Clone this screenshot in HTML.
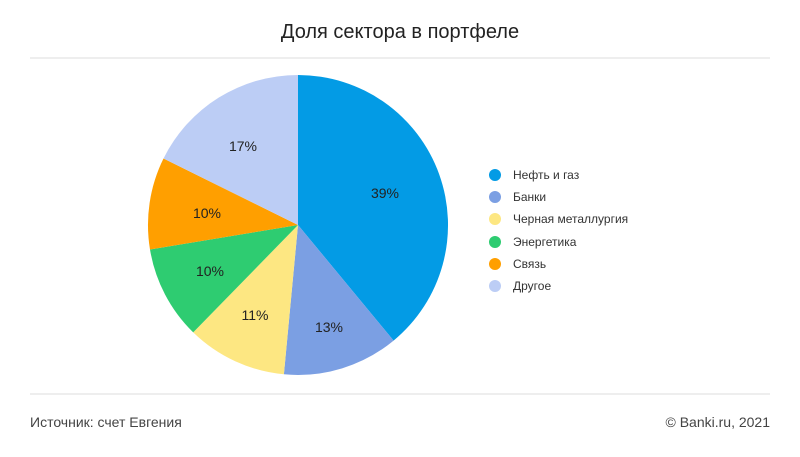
<!DOCTYPE html>
<html><head><meta charset="utf-8"><style>
body{margin:0;width:800px;height:452px;background:#fff;font-family:"Liberation Sans","DejaVu Sans",sans-serif;overflow:hidden}
</style></head><body>
<svg width="800" height="452" xmlns="http://www.w3.org/2000/svg" font-family="Liberation Sans, DejaVu Sans, sans-serif">
<rect width="800" height="452" fill="#fff"/>
<text x="400" y="38" text-anchor="middle" font-size="20" fill="#222">Доля сектора в портфеле</text>
<line x1="30" y1="58" x2="770" y2="58" stroke="#ddd"/>
<line x1="30" y1="394" x2="770" y2="394" stroke="#ddd"/>
<g stroke="none">
<path d="M298,225 L298,75 A150,150 0 0 1 393.6,340.6 Z" fill="#039be5"/>
<path d="M298,225 L393.6,340.6 A150,150 0 0 1 283.9,374.3 Z" fill="#7b9fe3"/>
<path d="M298,225 L283.9,374.3 A150,150 0 0 1 193.2,332.4 Z" fill="#fde782"/>
<path d="M298,225 L193.2,332.4 A150,150 0 0 1 150,249.5 Z" fill="#2ecc71"/>
<path d="M298,225 L150,249.5 A150,150 0 0 1 163.5,158.5 Z" fill="#ff9f00"/>
<path d="M298,225 L163.5,158.5 A150,150 0 0 1 298,75 Z" fill="#bccdf5"/>
</g>
<g font-size="14" fill="#222" text-anchor="middle">
<text x="385" y="198">39%</text>
<text x="329" y="332">13%</text>
<text x="255" y="320">11%</text>
<text x="210" y="276">10%</text>
<text x="207" y="218">10%</text>
<text x="243" y="151">17%</text>
</g>
<g font-size="12" fill="#333">
<circle cx="495" cy="175" r="6" fill="#039be5"/><text x="513" y="179">Нефть и газ</text>
<circle cx="495" cy="197" r="6" fill="#7b9fe3"/><text x="513" y="201">Банки</text>
<circle cx="495" cy="219" r="6" fill="#fde782"/><text x="513" y="223">Черная металлургия</text>
<circle cx="495" cy="242" r="6" fill="#2ecc71"/><text x="513" y="246">Энергетика</text>
<circle cx="495" cy="264" r="6" fill="#ff9f00"/><text x="513" y="268">Связь</text>
<circle cx="495" cy="286" r="6" fill="#bccdf5"/><text x="513" y="290">Другое</text>
</g>
<text x="30" y="427" font-size="14" fill="#444">Источник: счет Евгения</text>
<text x="770" y="427" font-size="14" fill="#444" text-anchor="end">© Banki.ru, 2021</text>
</svg>
</body></html>
